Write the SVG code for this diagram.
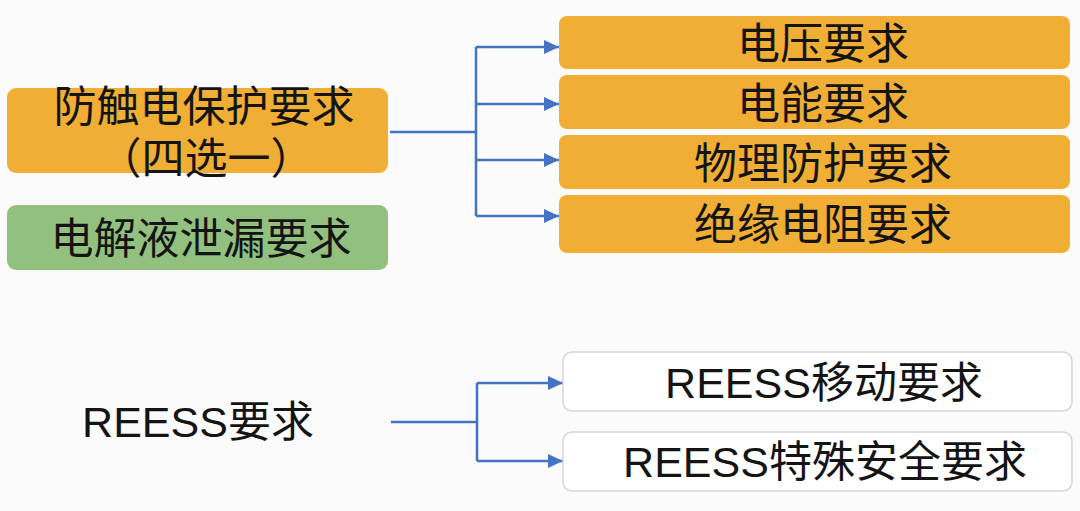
<svg xmlns="http://www.w3.org/2000/svg" width="1080" height="511" viewBox="0 0 1080 511">
<defs>
<style>
.t{font-family:"Liberation Sans","Noto Sans CJK SC",sans-serif;font-size:43px;fill:#141414;text-anchor:middle;dominant-baseline:central}
.or{fill:#F0AE35}
.gr{fill:#92C07F}
.wh{fill:#FFFFFF;stroke:#D6D6D6;stroke-width:1.5}
.c{fill:none;stroke:#4472C4;stroke-width:2.5}
</style>
<marker id="ah" markerWidth="15" markerHeight="14" refX="15" refY="7" orient="auto" markerUnits="userSpaceOnUse">
<path d="M0,0 L15,7 L0,14 Z" fill="#4472C4"/>
</marker>
</defs>
<rect width="1080" height="511" fill="#FBFBFB"/>
<g id="connectors">
<path class="c" d="M390,132 H476 M476,47 V216"/>
<path class="c" d="M476,47 H559" marker-end="url(#ah)"/>
<path class="c" d="M476,104 H559" marker-end="url(#ah)"/>
<path class="c" d="M476,160 H559" marker-end="url(#ah)"/>
<path class="c" d="M476,216 H559" marker-end="url(#ah)"/>
<path class="c" d="M391,422 H477 M477,383 V461"/>
<path class="c" d="M477,383 H563" marker-end="url(#ah)"/>
<path class="c" d="M477,461 H563" marker-end="url(#ah)"/>
</g>
<g id="n-protect">
<rect class="or" x="7" y="88" width="381" height="85" rx="9"/>
<text class="t" x="204" y="107">防触电保护要求</text>
<text class="t" x="206" y="159">（四选一）</text>
</g>
<g id="n-electrolyte">
<rect class="gr" x="7" y="205" width="381" height="65" rx="9"/>
<text class="t" x="201" y="239">电解液泄漏要求</text>
</g>
<g id="n-reess">
<text class="t" x="198" y="422">REESS要求</text>
</g>
<g id="n-voltage">
<rect class="or" x="559" y="16" width="511" height="53" rx="8"/>
<text class="t" x="823" y="44">电压要求</text>
</g>
<g id="n-energy">
<rect class="or" x="559" y="75" width="511" height="54" rx="8"/>
<text class="t" x="823" y="104">电能要求</text>
</g>
<g id="n-physical">
<rect class="or" x="559" y="135" width="511" height="54" rx="8"/>
<text class="t" x="823" y="164">物理防护要求</text>
</g>
<g id="n-insulation">
<rect class="or" x="559" y="195" width="511" height="58" rx="8"/>
<text class="t" x="823" y="225">绝缘电阻要求</text>
</g>
<g id="n-move">
<rect class="wh" x="563" y="352" width="509" height="59" rx="9"/>
<text class="t" x="824" y="383">REESS移动要求</text>
</g>
<g id="n-special">
<rect class="wh" x="563" y="432" width="509" height="59" rx="9"/>
<text class="t" x="825" y="462">REESS特殊安全要求</text>
</g>
</svg>
